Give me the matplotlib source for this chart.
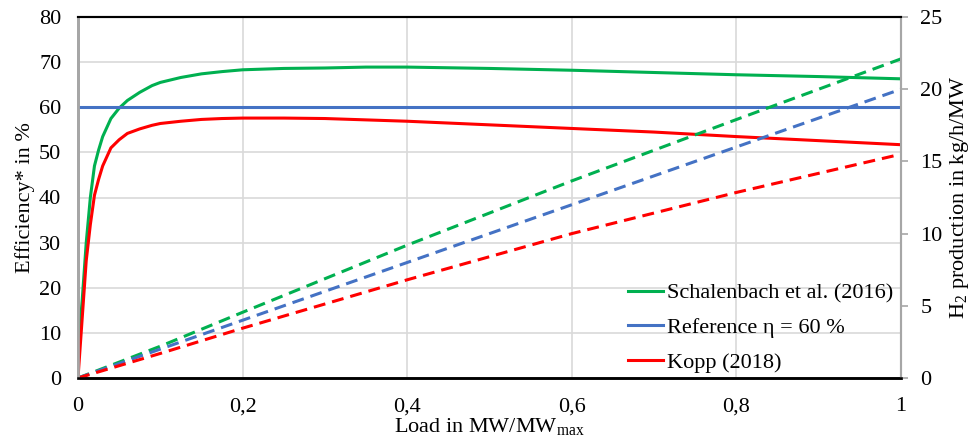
import matplotlib
matplotlib.use("Agg")
import matplotlib.pyplot as plt

plt.rcParams['font.family'] = ['Liberation Serif', 'DejaVu Serif']
plt.rcParams['mathtext.fontset'] = 'custom'
plt.rcParams['mathtext.rm'] = 'Liberation Serif'
plt.rcParams['mathtext.it'] = 'Liberation Serif:italic'

# ---- data ----
load = [0, 0.005, 0.01, 0.015, 0.02, 0.025, 0.03, 0.04, 0.05, 0.06, 0.075, 0.09,
        0.1, 0.125, 0.15, 0.175, 0.2, 0.25, 0.3, 0.35, 0.4, 0.5, 0.6, 0.7, 0.8,
        0.9, 1.0]
eta_schalenbach = [6, 17, 30, 40, 47, 50.5, 53.5, 57.5, 59.8, 61.5, 63.3, 64.8,
                   65.5, 66.6, 67.4, 67.9, 68.3, 68.6, 68.7, 68.9, 68.9, 68.6, 68.2,
                   67.7, 67.2, 66.8, 66.3]
eta_kopp = [0, 13, 26, 34, 40.5, 44, 47, 51, 52.8, 54.2, 55.2, 56.0,
            56.4, 56.9, 57.3, 57.5, 57.6, 57.6, 57.5, 57.2, 56.9, 56.1, 55.3,
            54.5, 53.5, 52.6, 51.7]
ref_load = [0, 1.0]
eta_reference = [60, 60]

load_h2 = [0, 0.1, 0.2, 0.4, 0.6, 0.8, 1.0]
h2_schalenbach = [0, 2.2, 4.55, 9.2, 13.65, 17.9, 22.1]
h2_reference = [0, 2.0, 4.0, 8.0, 12.0, 16.0, 20.0]
h2_kopp = [0, 1.7, 3.45, 6.8, 10.0, 12.85, 15.5]

x_ticks = [0, 0.2, 0.4, 0.6, 0.8, 1.0]
x_tick_labels = ['0', '0,2', '0,4', '0,6', '0,8', '1']
left_ticks = [0, 10, 20, 30, 40, 50, 60, 70, 80]
right_ticks = [0, 5, 10, 15, 20, 25]

green = '#00b050'
blue = '#4472c4'
red = '#ff0000'

fig = plt.figure(figsize=(9.73, 4.45), dpi=100)
ax = fig.add_axes([78/973, 1-378/445, (901-78)/973, (378-17)/445])
ax2 = ax.twinx()

fs = 16
lw = 2.2

ax.plot(load, eta_schalenbach, color=green, lw=lw, label='Schalenbach et al. (2016)', zorder=3)
ax.plot(ref_load, eta_reference, color=blue, lw=lw, label='Reference η = 60 %', zorder=3)
ax.plot(load, eta_kopp, color=red, lw=lw, label='Kopp (2018)', zorder=3)

dash = (3.9, 2.3)
for vals, col in ((h2_schalenbach, green), (h2_reference, blue), (h2_kopp, red)):
    ln, = ax2.plot(load_h2, vals, color=col, lw=lw, dashes=dash)
    ln.set_dash_capstyle('butt')

ax.set_xlim(0, 1)
ax.set_ylim(0, 80)
ax2.set_ylim(0, 25)

ax.set_xticks(x_ticks)
ax.set_xticklabels(x_tick_labels)
ax.set_yticks(left_ticks)
ax2.set_yticks(right_ticks)

ax.grid(True, color='#d9d9d9', lw=1.2, zorder=0)
ax.set_axisbelow(True)

ax.tick_params(axis='x', length=0, pad=14, labelsize=fs)
ax.tick_params(axis='y', length=0, pad=12, labelsize=fs)
ax2.tick_params(axis='y', length=5, width=1.2, color='#a6a6a6', pad=9, labelsize=fs, direction='out')

for a in (ax, ax2):
    a.spines['left'].set_color('#a6a6a6')
    a.spines['left'].set_linewidth(2)
    a.spines['right'].set_color('#a6a6a6')
    a.spines['right'].set_linewidth(1.5)
    a.spines['top'].set_color('black')
    a.spines['top'].set_linewidth(1.5)
    a.spines['bottom'].set_color('black')
    a.spines['bottom'].set_linewidth(1.8)

ax.set_xlabel('Load in MW/MW$_{\\mathrm{max}}$', fontsize=fs, labelpad=0)
ax.set_ylabel('Efficiency* in %', fontsize=fs, labelpad=3)
ax2.set_ylabel('H$_{2}$ production in kg/h/MW', fontsize=fs, labelpad=4)

leg = ax.legend(loc='upper left', bbox_to_anchor=(628/973, 1-283/445),
                bbox_transform=fig.transFigure, frameon=False, fontsize=fs,
                handlelength=1.58, handletextpad=0.18, labelspacing=0.63,
                borderpad=0, borderaxespad=0)

fig.savefig('out.png', dpi=100)
